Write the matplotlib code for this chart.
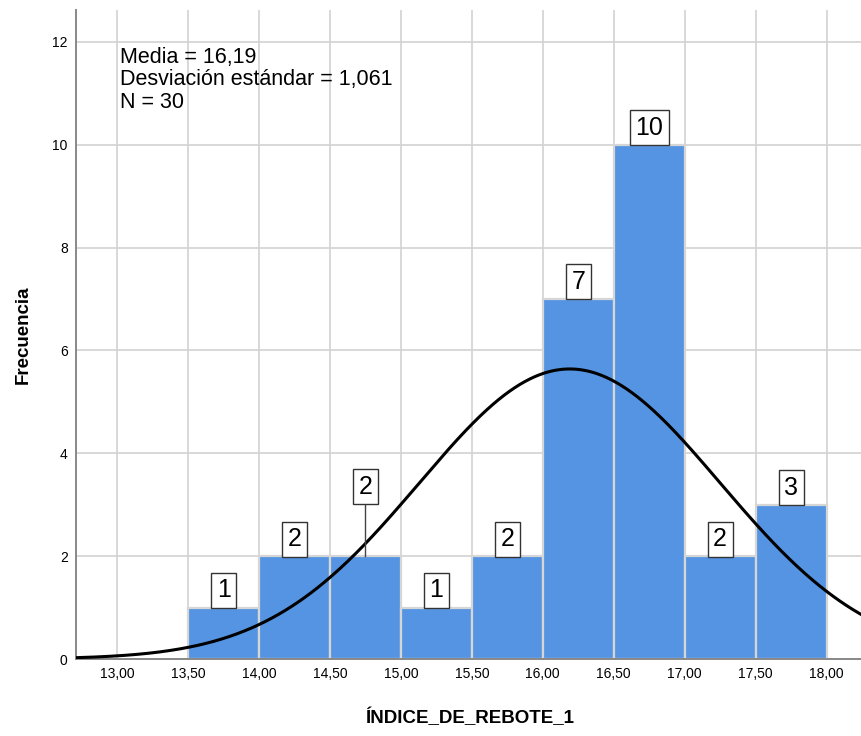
import numpy as np
import matplotlib
matplotlib.use("Agg")
import matplotlib.pyplot as plt

plt.rcParams['font.family'] = ['Liberation Sans', 'DejaVu Sans']

# Histogram bins (left edges) and counts
bin_left = [13.5, 14.0, 14.5, 15.0, 15.5, 16.0, 16.5, 17.0, 17.5]
counts = [1, 2, 2, 1, 2, 7, 10, 2, 3]
bin_width = 0.5

mean_val = 16.19
sd_val = 1.061
n_obs = 30

x_ticks = [13.0, 13.5, 14.0, 14.5, 15.0, 15.5, 16.0, 16.5, 17.0, 17.5, 18.0]
y_ticks = [0, 2, 4, 6, 8, 10, 12]

bar_color = '#5594E3'
grid_color = '#d2d2d2'

fig = plt.figure(figsize=(8.62, 7.36), dpi=100)
ax = fig.add_axes([0.0882, 0.1046, 0.9118, 0.8818])

ax.set_xlim(12.71, 18.25)
ax.set_ylim(0, 12.62)

ax.set_axisbelow(True)
ax.grid(True, color=grid_color, linewidth=1.2)

ax.bar(bin_left, counts, width=bin_width, align='edge', color=bar_color,
       edgecolor='#d6d6d6', linewidth=1.6, zorder=2)

# Normal curve scaled to the histogram
xs = np.linspace(12.71, 18.25, 600)
dens = n_obs * bin_width / (sd_val * np.sqrt(2 * np.pi)) * np.exp(-0.5 * ((xs - mean_val) / sd_val) ** 2)
ax.plot(xs, dens, color='black', linewidth=2.2, zorder=4)

# Count labels in boxes above each bar
box = dict(boxstyle='square,pad=0.22', facecolor='white', edgecolor='#333333', linewidth=1.0)
for left, c in zip(bin_left, counts):
    cx = left + bin_width / 2
    if abs(left - 14.5) < 1e-9:
        ty = c + 1.12
        ax.plot([cx, cx], [c, ty], color='#444444', linewidth=1.0, zorder=5)
        ax.text(cx, ty, str(c), ha='center', va='bottom', fontsize=18,
                bbox=box, zorder=6)
    else:
        ax.text(cx, c + 0.1, str(c), ha='center', va='bottom', fontsize=18,
                bbox=box, zorder=6)

ax.set_xticks(x_ticks)
ax.set_xticklabels([f"{v:.2f}".replace('.', ',') for v in x_ticks], fontsize=10)
ax.set_yticks(y_ticks)
ax.set_yticklabels([str(v) for v in y_ticks], fontsize=10)
ax.tick_params(length=0, pad=6)

for s in ['top', 'right']:
    ax.spines[s].set_visible(False)
for s in ['left', 'bottom']:
    ax.spines[s].set_color('#888888')
    ax.spines[s].set_linewidth(1.4)

ax.text(13.02, 11.9, "Media = 16,19\nDesviación estándar = 1,061\nN = 30",
        ha='left', va='top', fontsize=15.5, linespacing=1.08, zorder=6)

fig.text(0.545, 0.025, "ÍNDICE_DE_REBOTE_1", ha='center', va='center',
         fontsize=13.5, fontweight='bold')
fig.text(0.027, 0.545, "Frecuencia", ha='center', va='center',
         fontsize=13.5, fontweight='bold', rotation=90)

fig.savefig("out.png", dpi=100, facecolor='white')
